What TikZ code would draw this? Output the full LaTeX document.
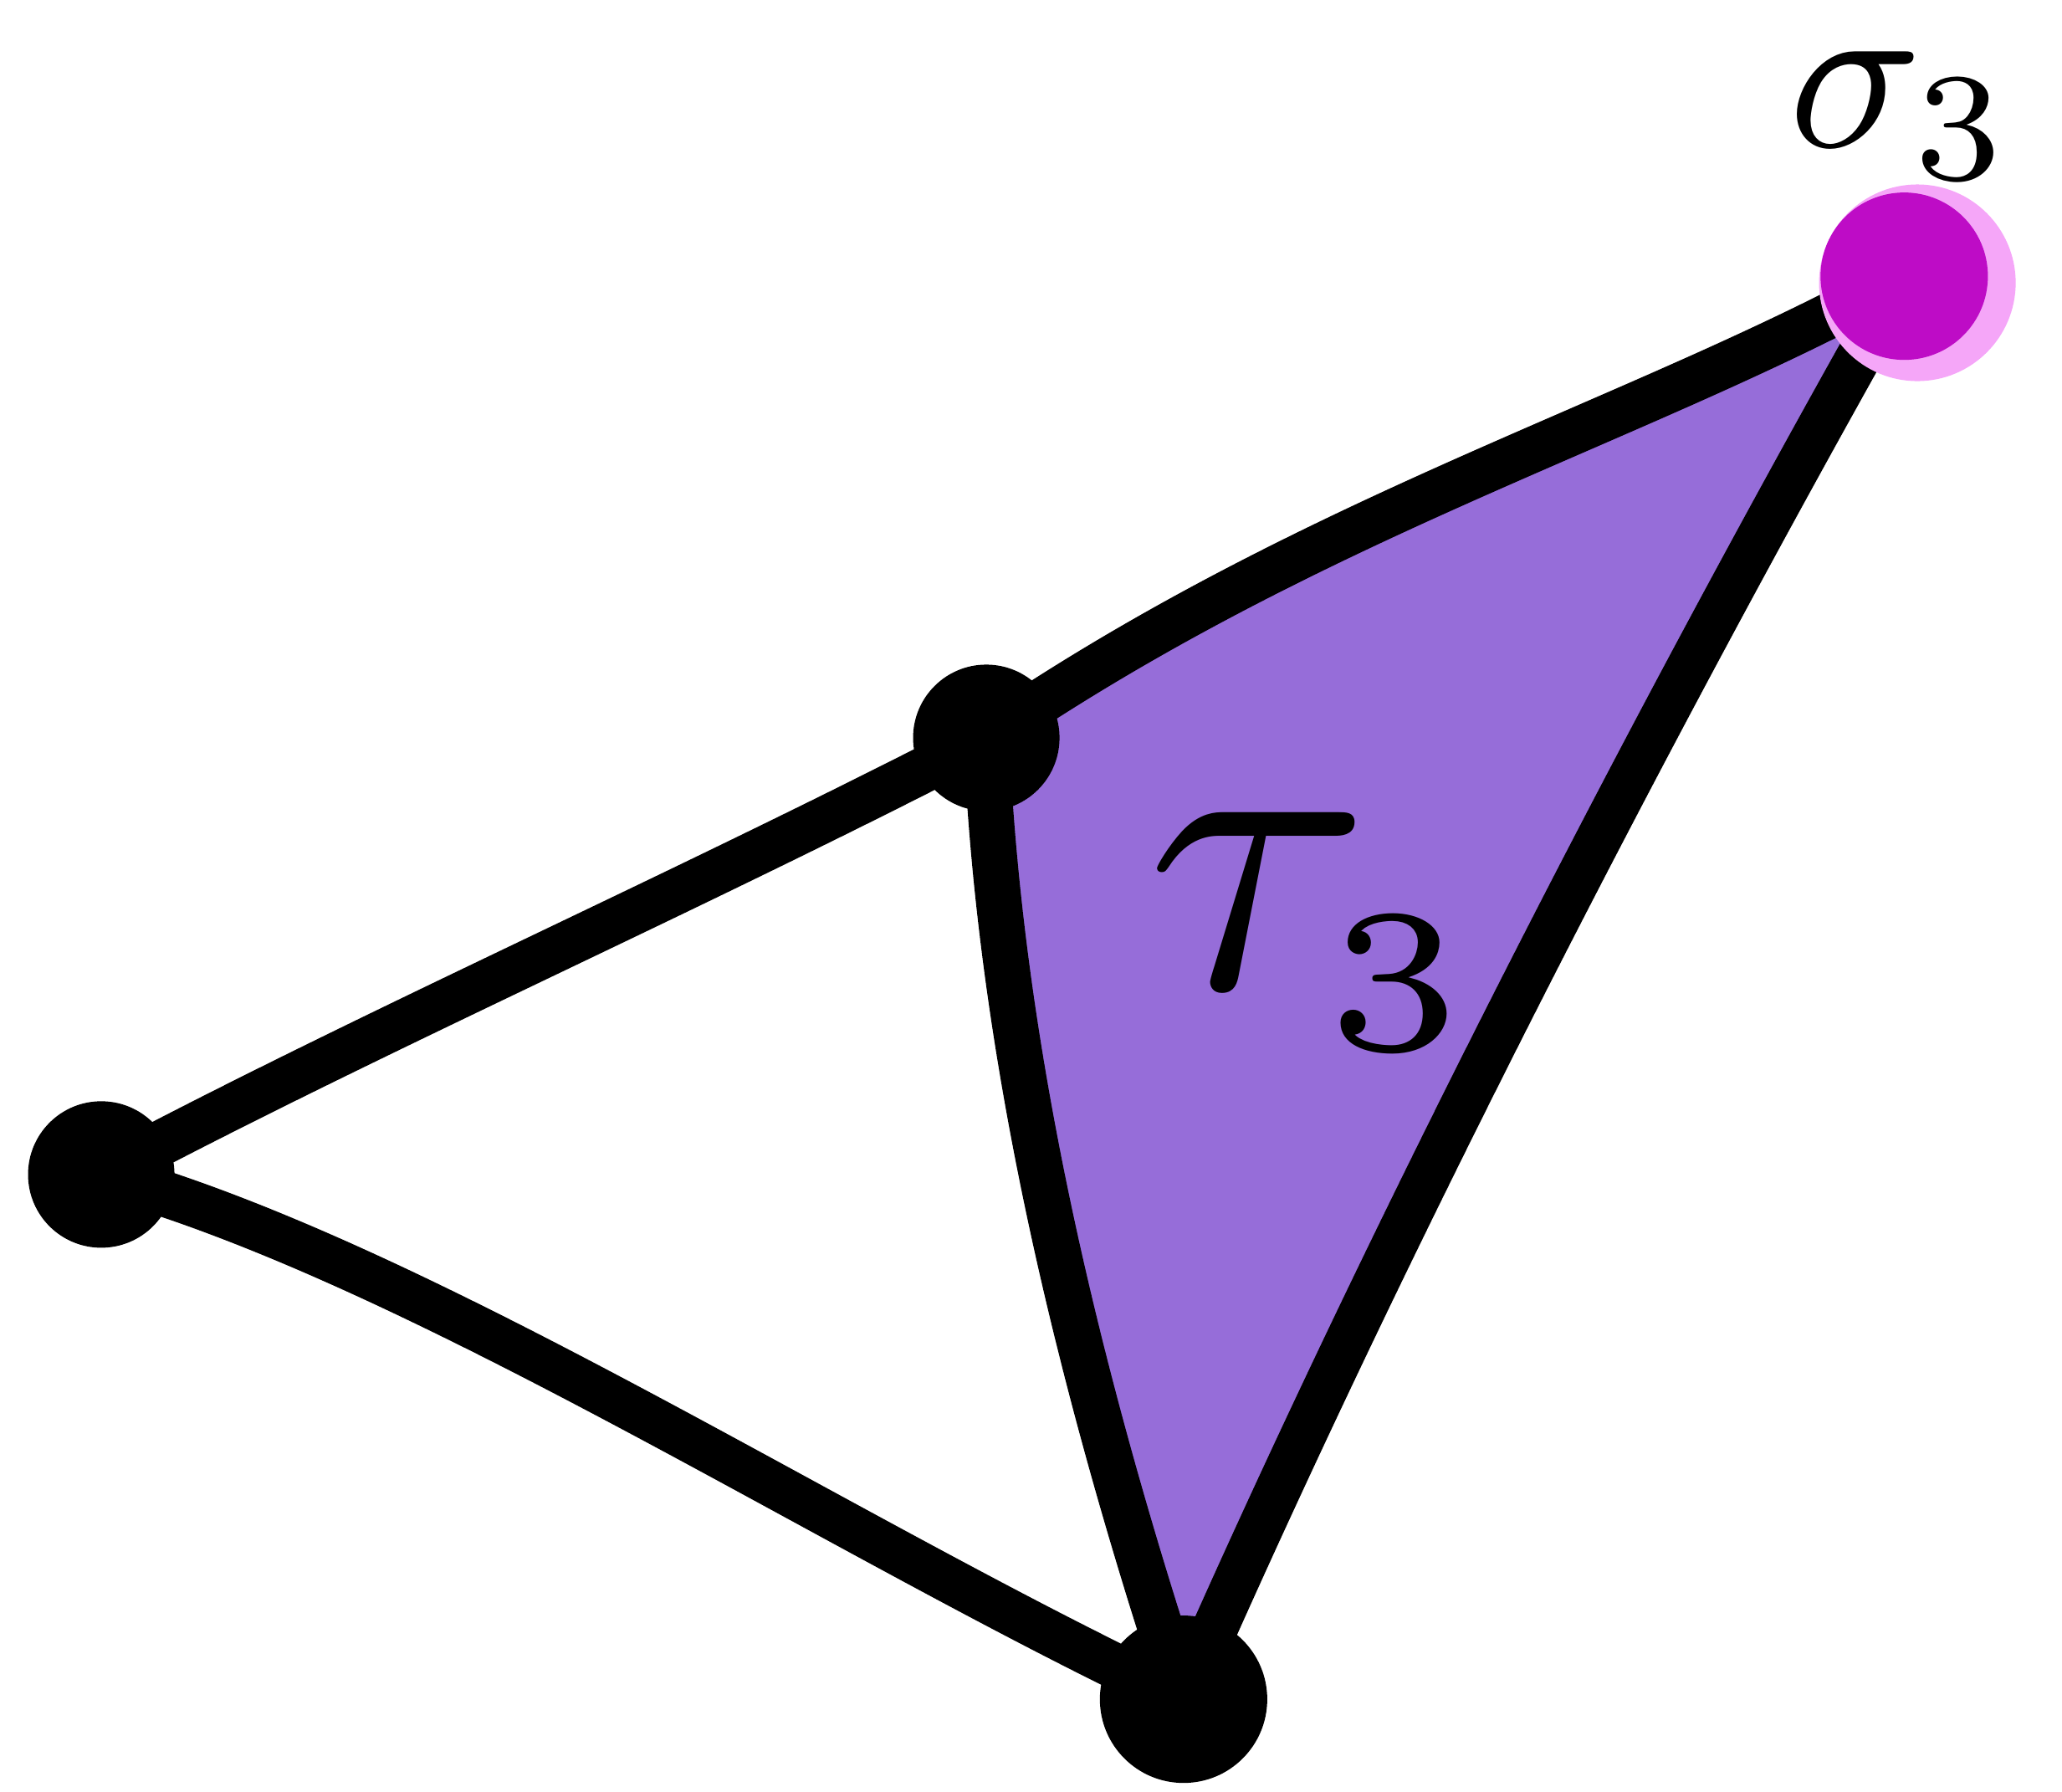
\documentclass[tikz,border=0pt]{standalone}
\usepackage{tikz}
\usetikzlibrary{backgrounds}

\definecolor{cellpurple}{RGB}{150,109,217}
\definecolor{vertmagenta}{RGB}{190,12,198}
\definecolor{halopink}{RGB}{245,166,248}

\begin{document}
\begin{tikzpicture}[x=0.01572cm, y=-0.01572cm,
			vertex/.style={circle, fill=black, inner sep=0pt, minimum size=1.75cm},
			bigvertex/.style={vertex, minimum size=2.0cm},
			edgeline/.style={line width=15.5pt, line cap=round, line join=round},
			label/.style={inner sep=2pt, scale=7.5, transform shape},
			]
			\useasboundingbox (0,0) rectangle (1568,1362);
			% Halo around the highlighted vertex
			\node[circle, fill=halopink, inner sep=0pt, minimum size=2.35cm] (halo) at (1458,215) {};
			% Vertices
			\node[vertex] (A) at (77,893) {};
			\node[vertex] (B) at (750,561) {};
			\node[bigvertex] (C) at (900,1292) {};
			\node[bigvertex, fill=vertmagenta] (D) at (1448,210) {};
			
			% Labels
			\node[label, anchor=east] (sig) at (1568,88) {$\sigma_3$};
			\node[label, scale=1.85] (tau) at (1000,708) {$\tau_{\scriptscriptstyle 3}$};
			
			\begin{pgfonlayer}{background}
				% Filled triangle
				\fill[cellpurple] (B.center) .. controls (1000,390) and (1250,320) .. (D.center)
				.. controls (1250,560) and (1050,950) .. (C.center)
				.. controls (820,1050) and (760,800) .. (B.center) -- cycle;
				
				% Edges
				\draw[edgeline] (A.center) .. controls (280,785) and (520,680) .. (B.center);
				\draw[edgeline] (A.center) .. controls (320,960) and (640,1170) .. (C.center);
				\draw[edgeline] (B.center) .. controls (760,800) and (820,1050) .. (C.center);
				\draw[edgeline] (B.center) .. controls (1000,390) and (1250,320) .. (D.center);
				\draw[edgeline] (C.center) .. controls (1050,950) and (1250,560) .. (D.center);
			\end{pgfonlayer}
		\end{tikzpicture}
\end{document}
